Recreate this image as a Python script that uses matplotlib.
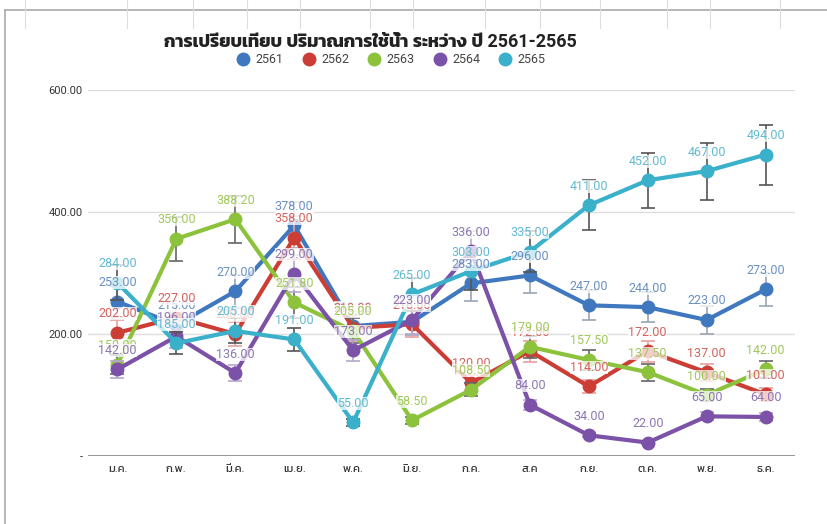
import matplotlib
matplotlib.use('Agg')
import matplotlib.pyplot as plt
from matplotlib import font_manager, ft2font
from matplotlib.lines import Line2D

# find a font that can draw Thai, prefer one with a bold face
thai = {}
for f in font_manager.fontManager.ttflist:
    try:
        if ord('ก') in ft2font.FT2Font(f.fname).get_charmap():
            w = f.weight if isinstance(f.weight, int) else 700 * (f.weight == 'bold')
            thai[f.name] = max(thai.get(f.name, 0), w)
    except Exception:
        pass
thai_fam = sorted(thai, key=lambda n: (-thai[n], n))[:1]
# digits in Roboto, Thai letters fall back to the Thai font
plt.rcParams['font.family'] = ['Roboto'] + thai_fam + ['DejaVu Sans']

title = 'การเปรียบเทียบ ปริมาณการใช้น้ำ ระหว่าง ปี 2561-2565'
months = ['ม.ค.', 'ก.พ.', 'มี.ค.', 'เม.ย.', 'พ.ค.', 'มิ.ย.',
          'ก.ค.', 'ส.ค', 'ก.ย.', 'ต.ค.', 'พ.ย.', 'ธ.ค.']
years = ['2561', '2562', '2563', '2564', '2565']

v2561 = [253, 215, 270, 378, 213, 220, 283, 296, 247, 244, 223, 273]
v2562 = [202, 227, 200, 358, 210, 216, 120, 172, 114, 172, 137, 101]
v2563 = [150, 356, 388.2, 251.8, 205, 58.5, 108.5, 179, 157.5, 137.5, 100, 142]
v2564 = [142, 196, 136, 299, 173, 223, 336, 84, 34, 22, 65, 64]
v2565 = [284, 185, 205, 191, 55, 265, 303, 335, 411, 452, 467, 494]
series = [v2561, v2562, v2563, v2564, v2565]

line_colors = ['#4078c0', '#cc3d35', '#8cc23c', '#7b52a8', '#3ab0cb']
label_colors = ['#6a90c4', '#d2645e', '#a0c85a', '#8c76b2', '#62b9d2']
err_colors = ['#9aa4b4', '#e6a0a0', '#666666', '#b8a8cc', '#555555']

fig = plt.figure(figsize=(8.27, 5.24), dpi=100)
ax = fig.add_axes([88/827, 1-456/524, (795-88)/827, (456-90)/524])

x = list(range(len(months)))
for i, vals in enumerate(series):
    err = [v * 0.1 for v in vals]
    ax.errorbar(x, vals, yerr=err, fmt='none', ecolor=err_colors[i],
                elinewidth=1.2, capsize=5, capthick=1.2, zorder=3 + i)
    ax.plot(x, vals, color=line_colors[i], lw=3, marker='o', ms=9,
            label=years[i], zorder=3 + i)
    # value labels above the lines, later years cover earlier ones
    for xi, v in zip(x, vals):
        ax.annotate(f'{v:.2f}', (xi, v), xytext=(0, 9), textcoords='offset points',
                    ha='center', va='bottom', fontsize=9, color=label_colors[i],
                    zorder=10 + i,
                    bbox=dict(boxstyle='square,pad=0.0', fc='white', ec='none',
                              alpha=0.75))

ax.set_xlim(-0.5, 11.5)
ax.set_ylim(0, 600)
ax.set_yticks([0, 200, 400, 600])
ax.set_yticklabels(['-', '200.00', '400.00', '600.00'])
ax.set_xticks(x)
ax.set_xticklabels(months)
ax.tick_params(length=0, labelsize=8, colors='#333333', pad=6)
ax.tick_params(axis='y', pad=4)
for s in ax.spines.values():
    s.set_visible(False)
ax.axhline(0, color='#999999', lw=1.5, zorder=1)
for yv in [200, 400, 600]:
    ax.axhline(yv, color='#dddddd', lw=1, zorder=1)

ax.legend(loc='lower center', bbox_to_anchor=(0.43, 1.035), ncol=5, frameon=False,
          fontsize=9, handlelength=0.8, columnspacing=1.6, handletextpad=0.6,
          labelcolor='#444444')
for h in ax.get_legend().legend_handles:
    h.set_linestyle('none')
    h.set_markersize(9)

fig.text(370/827, 1-42/524, title, ha='center', va='center', fontsize=13,
         fontweight='bold', color='#222222')

# spreadsheet frame around the chart
fig.add_artist(Line2D([5/827, 1], [1-10/524, 1-10/524], color='#aaaaaa', lw=1.2))
fig.add_artist(Line2D([5/827, 5/827], [0, 1-10/524], color='#aaaaaa', lw=1.2))
for xp in [25, 127, 193, 247, 300, 370, 413, 485, 540, 600, 667, 710, 780]:
    fig.add_artist(Line2D([xp/827, xp/827], [1-28/524, 1], color='#dddddd', lw=0.8))

fig.savefig('out.png', dpi=100)
